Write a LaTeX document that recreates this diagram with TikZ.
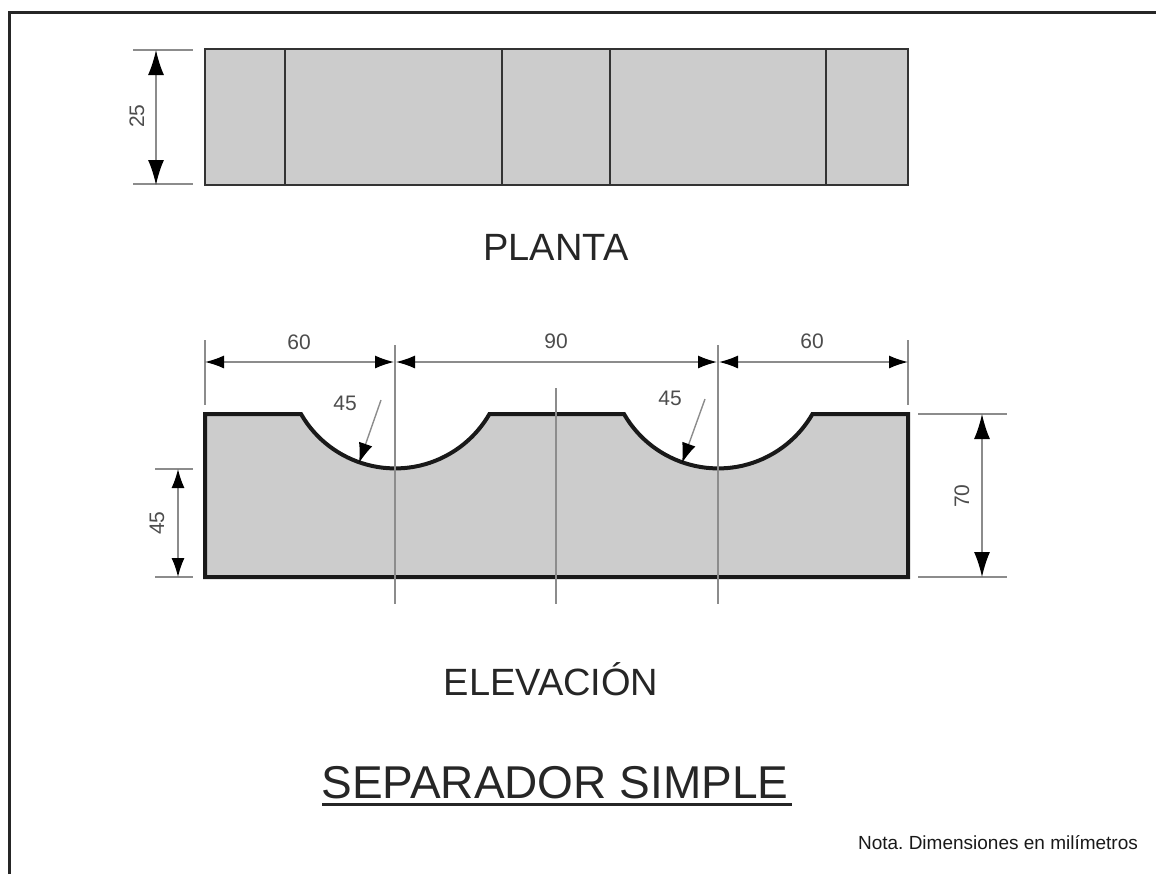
\documentclass[tikz,border=0pt]{standalone}
\usepackage{fontspec}
\setmainfont{Liberation Sans}
\usetikzlibrary{arrows.meta}
\tikzset{
  solid part/.style={draw=black!90,fill=black!20,line width=2pt,line join=miter},
  thin part/.style={draw=black!80,line width=1.4pt},
  aux line/.style={draw=black!45,line width=.7pt},
  dim big/.style={aux line,{Latex[black,length=12.5pt,width=8pt]}-{Latex[black,length=12.5pt,width=8pt]}},
  dim small/.style={aux line,{Latex[black,length=9.5pt,width=6.5pt]}-{Latex[black,length=9.5pt,width=6.5pt]}},
  leader/.style={aux line,-{Latex[black,length=10pt,width=7pt]}},
  dim label/.style={font=\fontsize{10.5}{10.5}\selectfont,text=black!70,inner sep=0pt},
  view title/.style={font=\fontsize{19}{19}\selectfont,text=black!85,inner sep=0pt},
}
\begin{document}
\begin{tikzpicture}[x=.5pt,y=-.5pt]
\useasboundingbox (0,0) rectangle (1156,874);
% frame
\draw[black!85,line width=1.5pt] (9,874) -- (9,12) -- (1156,12);
% plan view
\path[fill=black!20] (205,49) rectangle (908,185);
\foreach \px in {285,502,610,826}
  \draw[thin part] (\px,49) -- (\px,185);
\draw[thin part] (205,49) rectangle (908,185);
\coordinate (plantop) at (156,50);
\coordinate (planbot) at (156,185);
\draw[aux line] (133,50) -- (193,50) (133,184) -- (193,184);
\draw[dim big] (planbot) -- (plantop);
\node[dim label,rotate=90] (plandim) at (137,116) {25};
\node[view title] (planta) at (556,247) {PLANTA};
% elevation
\draw[solid part] (205,414) -- (301,414) arc[start angle=150,end angle=30,radius=108.8]
  -- (624,414) arc[start angle=150,end angle=30,radius=108.8]
  -- (908,414) -- (908,577) -- (205,577) -- cycle;
\foreach \cx/\ctop/\cbot in {395/345/604,556/388/604,718/345/604}
  \draw[aux line] (\cx,\ctop) -- (\cx,\cbot);
\draw[aux line] (205,340) -- (205,405) (908,340) -- (908,405);
\coordinate (wl) at (205,362);
\coordinate (wa) at (394,362);
\coordinate (wb) at (396,362);
\coordinate (wc) at (717,362);
\coordinate (wd) at (719,362);
\coordinate (wr) at (908,362);
\draw[dim small] (wl) -- (wa);
\draw[dim small] (wb) -- (wc);
\draw[dim small] (wd) -- (wr);
\node[dim label] (wone) at (299,342) {60};
\node[dim label] (wtwo) at (556,341) {90};
\node[dim label] (wthree) at (812,341) {60};
\coordinate (ra) at (381,400);
\coordinate (rb) at (359,463);
\coordinate (rc) at (705,399);
\coordinate (rd) at (682,463);
\draw[leader] (ra) -- (rb);
\draw[leader] (rc) -- (rd);
\node[dim label] (rone) at (345,403) {45};
\node[dim label] (rtwo) at (670,398) {45};
\draw[aux line] (155,469) -- (193,469) (155,577) -- (193,577);
\coordinate (la) at (178,469);
\coordinate (lb) at (178,577);
\draw[dim small] (la) -- (lb);
\node[dim label,rotate=90] (lone) at (157,523) {45};
\draw[aux line] (918,414) -- (1007,414) (918,577) -- (1007,577);
\coordinate (ha) at (982,414);
\coordinate (hb) at (982,577);
\draw[dim big] (ha) -- (hb);
\node[dim label,rotate=90] (hone) at (962,496) {70};
\node[view title] (elevacion) at (551,679) {ELEVACIÓN};
\node[font=\fontsize{23}{23}\selectfont,text=black!85,inner sep=0pt] (titulo) at (555,783) {SEPARADOR SIMPLE};
\draw[black!85,line width=1.5pt] (322,804) -- (792,804);
\node[font=\fontsize{9.5}{9.5}\selectfont,text=black!90,inner sep=0pt] (nota) at (998,843) {Nota.\ Dimensiones en milímetros};
\end{tikzpicture}
\end{document}
